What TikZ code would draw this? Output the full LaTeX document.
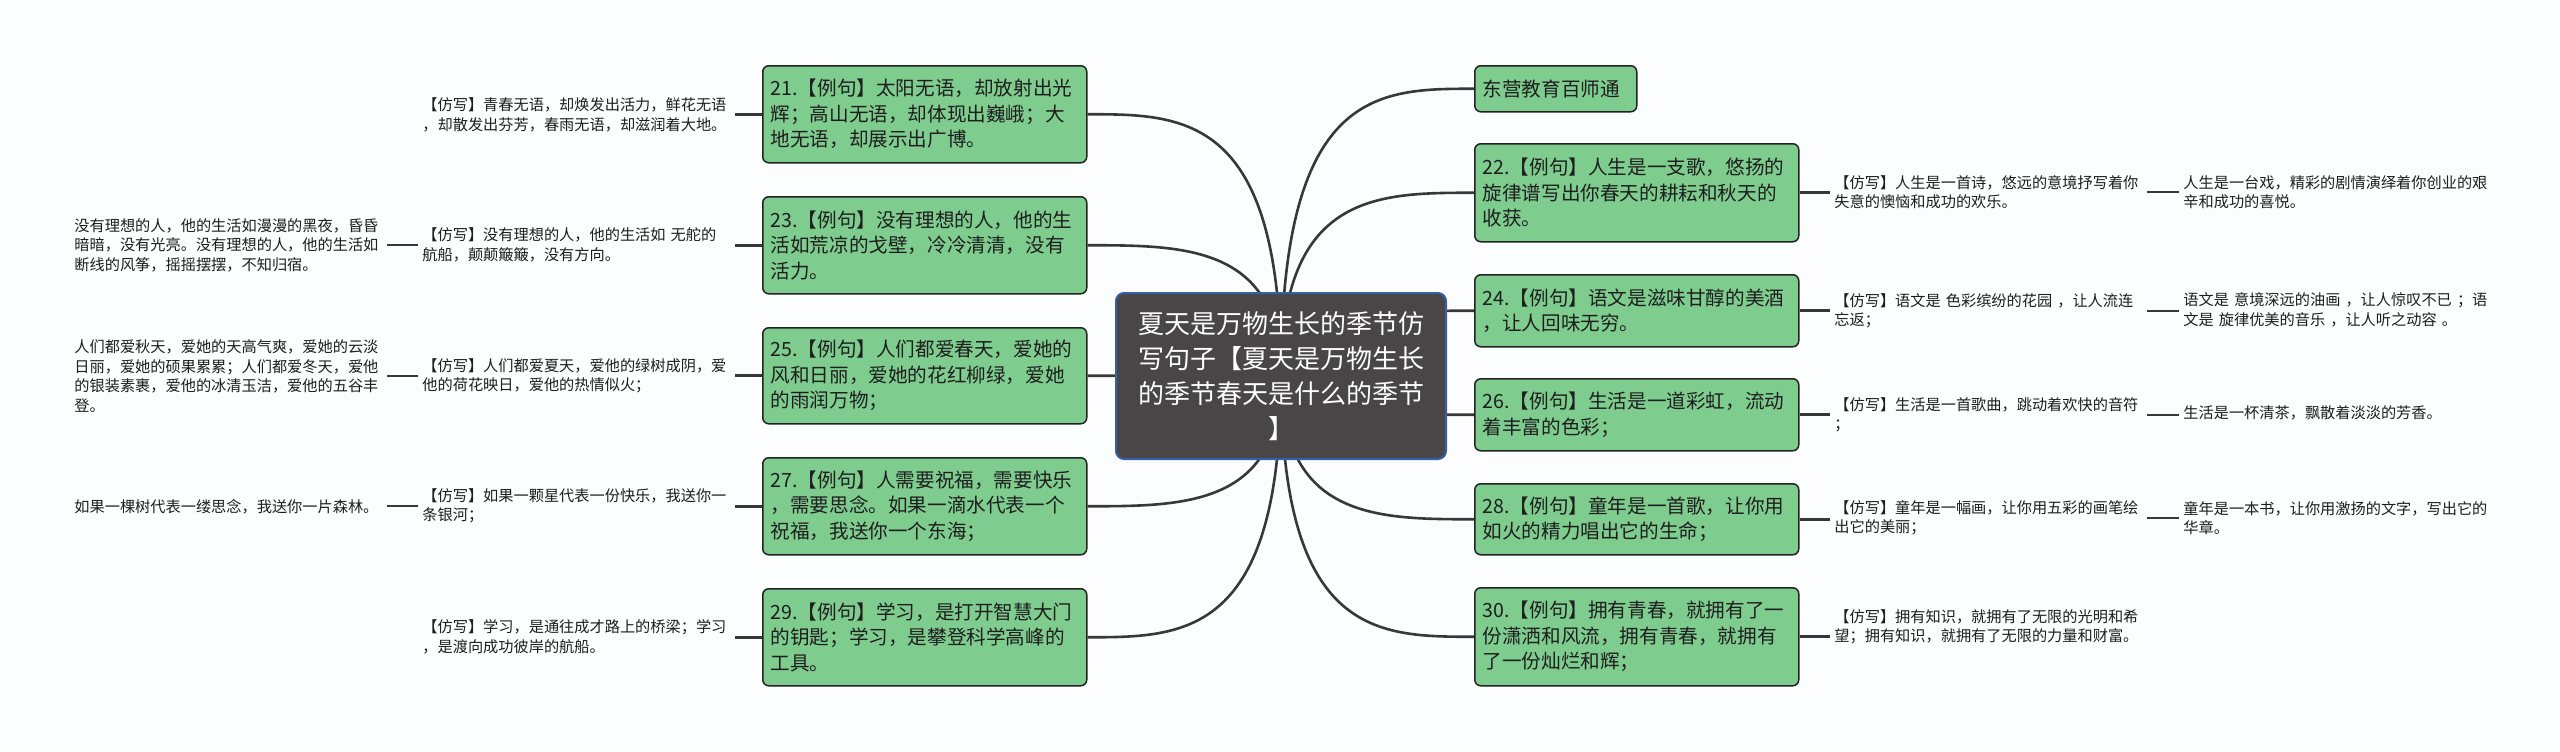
\documentclass[tikz,border=0pt]{standalone}
\usepackage{fontspec}
\newfontfamily\cjk{Noto Sans CJK SC}
\usetikzlibrary{calc}
\definecolor{bgc}{HTML}{FBFDFE}
\definecolor{gfill}{HTML}{7FCC8F}
\definecolor{gline}{HTML}{222222}
\definecolor{cfill}{HTML}{4A4546}
\definecolor{cline}{HTML}{3560A8}
\definecolor{conncol}{HTML}{383838}
\definecolor{txt}{HTML}{1E1E1E}
\pgfdeclarelayer{back}
\pgfdeclarelayer{lines}
\pgfsetlayers{back,lines,main}
\tikzset{
  gbox/.style={draw=gline, line width=0.75pt, fill=gfill, rounded corners=3pt,
    anchor=north west, text width=154pt, inner xsep=4pt, inner ysep=0pt, align=left,
    text=txt, font={\cjk\fontsize{9.8pt}{12.75pt}\selectfont}},
  cbox/.style={draw=cline, line width=1pt, fill=cfill, rounded corners=4pt,
    anchor=north west, text width=150pt, inner xsep=7.5pt, inner ysep=0pt, align=center,
    minimum height=83pt, text=white, font={\cjk\fontsize{13pt}{17.5pt}\selectfont}},
  stext/.style={anchor=west, text width=154pt, inner xsep=2pt, inner ysep=1pt, align=left,
    text=txt, font={\cjk\fontsize{7.6pt}{9.75pt}\selectfont}},
  curve/.style={draw=conncol, line width=1.3pt},
  tick/.style={draw=conncol, line width=1.3pt},
}
\newcommand\mmbranch[1]{\draw[curve] (ctr.center) .. controls (ctr.center |- #1) and ($(ctr.center |- #1)!.5!(#1)$) .. (#1);}
\begin{document}
\begin{tikzpicture}[x=0.5pt, y=-0.5pt]
\begin{pgfonlayer}{back}
\fill[bgc] (0,0) rectangle (2560,751);
\end{pgfonlayer}
\useasboundingbox (0,0) rectangle (2560,751);

% center
\node[cbox] (ctr) at (1115,292) {夏天是万物生长的季节仿\\写句子【夏天是万物生长\\的季节春天是什么的季节\\】};

% left green nodes
\node[gbox, minimum height=48.5pt] (n21) at (762,65) {21.【例句】太阳无语，却放射出光\\辉；高山无语，却体现出巍峨；大\\地无语，却展示出广博。};
\node[gbox, minimum height=48.5pt] (n23) at (762,196) {23.【例句】没有理想的人，他的生\\活如荒凉的戈壁，冷冷清清，没有\\活力。};
\node[gbox, minimum height=48pt] (n25) at (762,327) {25.【例句】人们都爱春天，爱她的\\风和日丽，爱她的花红柳绿，爱她\\的雨润万物；};
\node[gbox, minimum height=48.5pt] (n27) at (762,457) {27.【例句】人需要祝福，需要快乐\\，需要思念。如果一滴水代表一个\\祝福，我送你一个东海；};
\node[gbox, minimum height=48.5pt] (n29) at (762,588) {29.【例句】学习，是打开智慧大门\\的钥匙；学习，是攀登科学高峰的\\工具。};

% right green nodes
\node[gbox, text width=73pt, minimum height=23pt] (n0) at (1474,65) {东营教育百师通};
\node[gbox, minimum height=49pt] (n22) at (1474,143) {22.【例句】人生是一支歌，悠扬的\\旋律谱写出你春天的耕耘和秋天的\\收获。};
\node[gbox, minimum height=36pt] (n24) at (1474,274) {24.【例句】语文是滋味甘醇的美酒\\，让人回味无穷。};
\node[gbox, minimum height=36pt] (n26) at (1474,378) {26.【例句】生活是一道彩虹，流动\\着丰富的色彩；};
\node[gbox, minimum height=35.5pt] (n28) at (1474,483) {28.【例句】童年是一首歌，让你用\\如火的精力唱出它的生命；};
\node[gbox, minimum height=49pt] (n30) at (1474,587) {30.【例句】拥有青春，就拥有了一\\份潇洒和风流，拥有青春，就拥有\\了一份灿烂和辉；};

% left imitation texts
\node[stext] (f21) at (418,115) {【仿写】青春无语，却焕发出活力，鲜花无语\\，却散发出芬芳，春雨无语，却滋润着大地。};
\node[stext] (f23) at (418,245) {【仿写】没有理想的人，他的生活如 无舵的\\航船，颠颠簸簸，没有方向。};
\node[stext] (f25) at (418,376) {【仿写】人们都爱夏天，爱他的绿树成阴，爱\\他的荷花映日，爱他的热情似火；};
\node[stext] (f27) at (418,506) {【仿写】如果一颗星代表一份快乐，我送你一\\条银河；};
\node[stext] (f29) at (418,637) {【仿写】学习，是通往成才路上的桥梁；学习\\，是渡向成功彼岸的航船。};

\node[stext] (g23) at (70,245) {没有理想的人，他的生活如漫漫的黑夜，昏昏\\暗暗，没有光亮。没有理想的人，他的生活如\\断线的风筝，摇摇摆摆，不知归宿。};
\node[stext] (g25) at (70,376) {人们都爱秋天，爱她的天高气爽，爱她的云淡\\日丽，爱她的硕果累累；人们都爱冬天，爱他\\的银装素裹，爱他的冰清玉洁，爱他的五谷丰\\登。};
\node[stext] (g27) at (70,507) {如果一棵树代表一缕思念，我送你一片森林。};

% right imitation texts
\node[stext] (h22) at (1830,192) {【仿写】人生是一首诗，悠远的意境抒写着你\\失意的懊恼和成功的欢乐。};
\node[stext] (h24) at (1830,311) {【仿写】语文是 色彩缤纷的花园 ，让人流连\\忘返；};
\node[stext] (h26) at (1830,415) {【仿写】生活是一首歌曲，跳动着欢快的音符\\；};
\node[stext] (h28) at (1830,518) {【仿写】童年是一幅画，让你用五彩的画笔绘\\出它的美丽；};
\node[stext] (h30) at (1830,627) {【仿写】拥有知识，就拥有了无限的光明和希\\望；拥有知识，就拥有了无限的力量和财富。};

\node[stext] (k22) at (2179,192) {人生是一台戏，精彩的剧情演绎着你创业的艰\\辛和成功的喜悦。};
\node[stext] (k24) at (2179,310) {语文是 意境深远的油画 ，让人惊叹不已 ；语\\文是 旋律优美的音乐 ，让人听之动容 。};
\node[stext] (k26) at (2179,413) {生活是一杯清茶，飘散着淡淡的芳香。};
\node[stext] (k28) at (2179,518) {童年是一本书，让你用激扬的文字，写出它的\\华章。};

\begin{pgfonlayer}{lines}
\mmbranch{n21.east}
\mmbranch{n23.east}
\mmbranch{n25.east}
\mmbranch{n27.east}
\mmbranch{n29.east}
\mmbranch{n0.west}
\mmbranch{n22.west}
\mmbranch{n24.west}
\mmbranch{n26.west}
\mmbranch{n28.west}
\mmbranch{n30.west}
\draw[tick] (n21.west) -- (n21.west -| f21.east);
\draw[tick] (n23.west) -- (n23.west -| f23.east);
\draw[tick] (n25.west) -- (n25.west -| f25.east);
\draw[tick] (n27.west) -- (n27.west -| f27.east);
\draw[tick] (n29.west) -- (n29.west -| f29.east);
\draw[tick] (f23.west) -- (f23.west -| g23.east);
\draw[tick] (f25.west) -- (f25.west -| g25.east);
\draw[tick] (f27.west) -- (f27.west -| g27.east);
\draw[tick] (n22.east) -- (n22.east -| h22.west);
\draw[tick] (n24.east) -- (n24.east -| h24.west);
\draw[tick] (n26.east) -- (n26.east -| h26.west);
\draw[tick] (n28.east) -- (n28.east -| h28.west);
\draw[tick] (n30.east) -- (n30.east -| h30.west);
\draw[tick] (h22.east) -- (h22.east -| k22.west);
\draw[tick] (h24.east) -- (h24.east -| k24.west);
\draw[tick] (h26.east) -- (h26.east -| k26.west);
\draw[tick] (h28.east) -- (h28.east -| k28.west);
\end{pgfonlayer}
\end{tikzpicture}
\end{document}
